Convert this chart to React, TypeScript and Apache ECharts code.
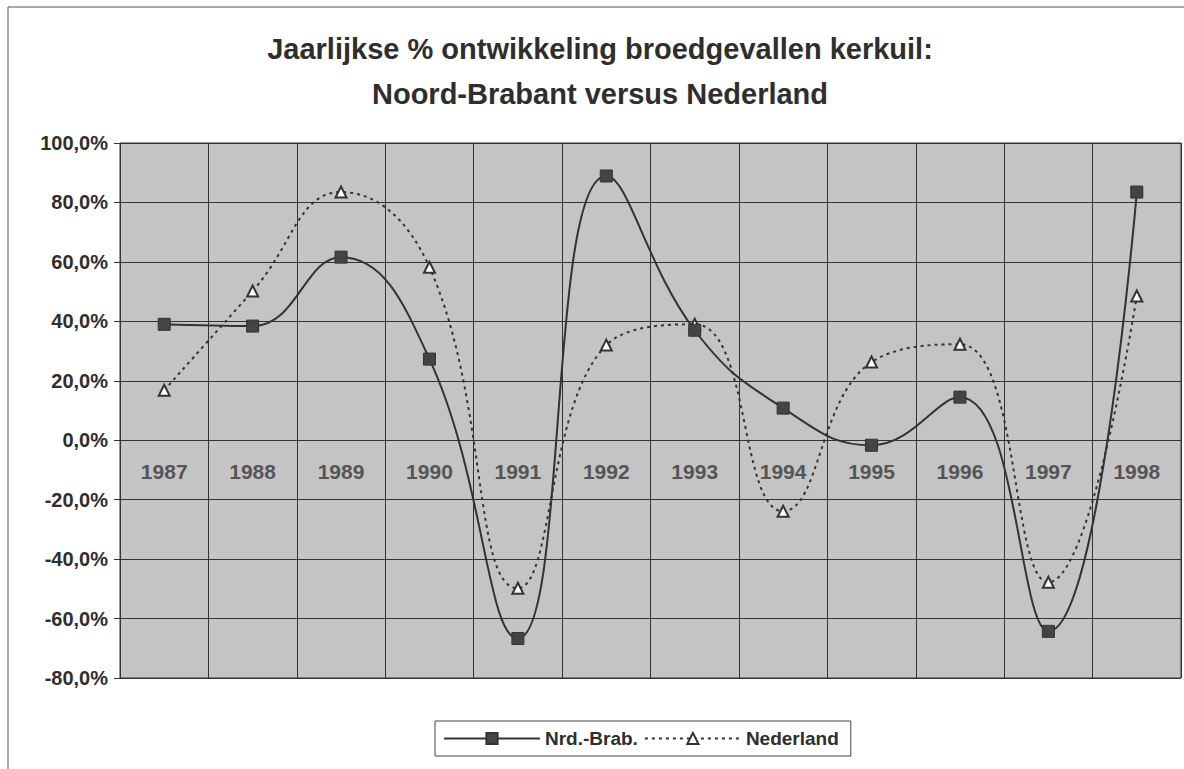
import React, { useEffect, useRef } from "react";
import * as echarts from "echarts";

const years = ["1987", "1988", "1989", "1990", "1991", "1992", "1993", "1994", "1995", "1996", "1997", "1998"];
const nrdBrab = [39.0, 38.4, 61.6, 27.3, -66.7, 88.9, 37.0, 10.8, -1.7, 14.5, -64.3, 83.5];
const nederland = [16.8, 50.2, 83.5, 58.2, -49.8, 32.0, 39.0, -23.9, 26.3, 32.3, -47.8, 48.5];
const yMin = -80;
const yMax = 100;
const yStep = 20;

const FONT = "'Liberation Sans', Arial, sans-serif";
const INK = "#2e2e2e";

export default function App() {
  const ref = useRef<HTMLDivElement>(null);
  useEffect(() => {
    if (!ref.current) return;
    const chart = echarts.init(ref.current, undefined, { renderer: "svg" });
    chart.setOption({
      animation: false,
      backgroundColor: "#ffffff",
      title: {
        text: "Jaarlijkse % ontwikkeling broedgevallen kerkuil:\nNoord-Brabant versus Nederland",
        left: 595,
        textAlign: "center",
        top: 21,
        textStyle: {
          fontFamily: FONT,
          fontWeight: "bold",
          fontSize: 29,
          lineHeight: 45,
          color: INK,
        },
      },
      graphic: [
        {
          type: "rect",
          shape: { x: 8, y: 7, width: 1200, height: 800 },
          style: { fill: "none", stroke: "#555", lineWidth: 1 },
          silent: true,
          z: -1,
        },
      ],
      legend: {
        left: 435,
        top: 721,
        padding: [8, 12, 8, 8],
        borderColor: "#444",
        borderWidth: 1,
        itemWidth: 96,
        itemHeight: 14,
        itemGap: 6,
        textStyle: { fontFamily: FONT, fontWeight: "bold", fontSize: 19, color: INK },
        data: ["Nrd.-Brab.", "Nederland"],
      },
      grid: {
        left: 120,
        right: 3,
        top: 143,
        bottom: 91,
        show: true,
        backgroundColor: "#c4c4c4",
        borderColor: "#333",
        borderWidth: 1,
      },
      xAxis: {
        type: "category",
        data: years,
        boundaryGap: true,
        offset: -238,
        axisLine: { onZero: false, lineStyle: { color: "#333", width: 1 } },
        axisTick: { show: false },
        axisLabel: {
          margin: 21,
          fontFamily: FONT,
          fontWeight: "bold",
          fontSize: 21,
          color: "#555",
        },
        splitLine: { show: true, lineStyle: { color: "#333", width: 1 } },
      },
      yAxis: {
        type: "value",
        min: yMin,
        max: yMax,
        interval: yStep,
        axisLine: { show: false },
        axisTick: { show: true, length: 6, lineStyle: { color: "#333" } },
        axisLabel: {
          margin: 12,
          fontFamily: FONT,
          fontWeight: "bold",
          fontSize: 20,
          color: INK,
          formatter: (v: number) => v.toFixed(1).replace(".", ",") + "%",
        },
        splitLine: { show: true, lineStyle: { color: "#333", width: 1 } },
      },
      series: [
        {
          name: "Nrd.-Brab.",
          type: "line",
          data: nrdBrab,
          smooth: 0.45,
          symbol: "rect",
          symbolSize: 12,
          lineStyle: { color: "#333", width: 2, type: "solid" },
          itemStyle: { color: "#444", borderColor: "#333", borderWidth: 1 },
          z: 3,
        },
        {
          name: "Nederland",
          type: "line",
          data: nederland,
          smooth: 0.45,
          symbol: "triangle",
          symbolSize: 11,
          lineStyle: { color: "#333", width: 2, type: [3, 4] },
          itemStyle: { color: "#ffffff", borderColor: "#333", borderWidth: 2 },
          z: 2,
        },
      ],
    });
    return () => chart.dispose();
  }, []);
  return (
    <div
      ref={ref}
      style={{ position: "fixed", left: 0, top: 0, width: 1184, height: 769 }}
    />
  );
}
